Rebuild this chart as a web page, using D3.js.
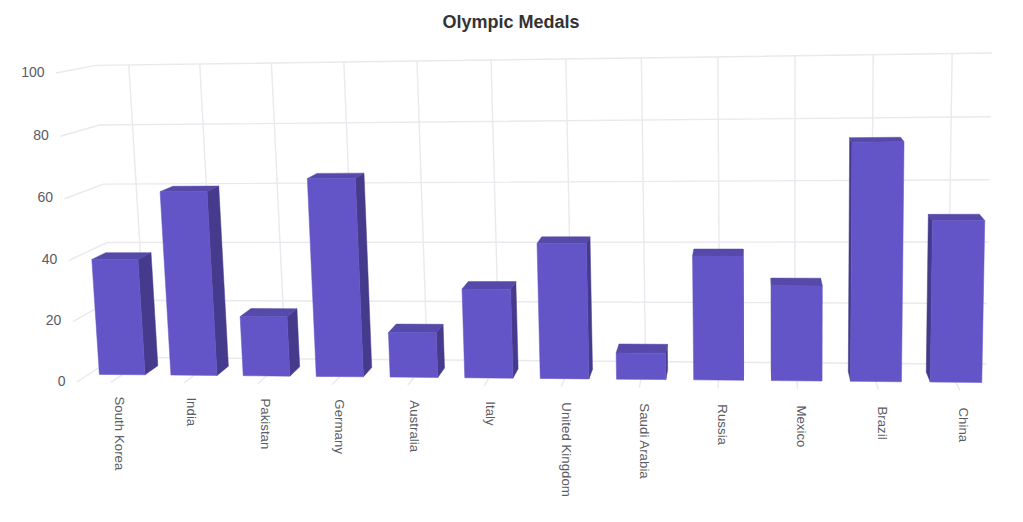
<!DOCTYPE html>
<html><head><meta charset="utf-8">
<style>html,body{margin:0;padding:0;background:#fff}svg{display:block}</style>
<script src="https://cdnjs.cloudflare.com/ajax/libs/d3/7.8.5/d3.min.js"></script>
</head><body><div id="chart"></div>
<script>
const categories = ["South Korea","India","Pakistan","Germany","Australia","Italy","United Kingdom","Saudi Arabia","Russia","Mexico","Brazil","China"];
const medals = [38.5,60.7,19.7,64.7,14.7,29,43.7,8.5,39.7,30.3,75,50.7];
const yTicks = [0,20,40,60,80,100];
const title = "Olympic Medals";

const W=1023,H=522;
// view frame of the 3D box: corners of the front plane and depth vanishing point
const Q={x0:77,y0:382,x1:1001,y1:391,x2:1007.7,y2:60.4,x3:56,y3:73};
const VP=[750,-60], backLeftX=114.5;
const barDepth=[0.3,0.67], barFill=0.64;
const dx1=Q.x1-Q.x2,dx2=Q.x3-Q.x2,sx=Q.x0-Q.x1+Q.x2-Q.x3;
const dy1=Q.y1-Q.y2,dy2=Q.y3-Q.y2,sy=Q.y0-Q.y1+Q.y2-Q.y3;
const den=dx1*dy2-dx2*dy1;
const g=(sx*dy2-dx2*sy)/den,h=(dx1*sy-sx*dy1)/den;
const lam=(Q.x0-backLeftX)/(backLeftX-VP[0]);
// u: x-axis fraction, v: y-axis fraction (bottom to top), z: 0 front, 1 back wall
function project(u,v,z){
  const X=(Q.x1-Q.x0+g*Q.x1)*u+(Q.x3-Q.x0+h*Q.x3)*v+lam*VP[0]*z+Q.x0;
  const Y=(Q.y1-Q.y0+g*Q.y1)*u+(Q.y3-Q.y0+h*Q.y3)*v+lam*VP[1]*z+Q.y0;
  const w=g*u+h*v+lam*z+1;
  return [X/w,Y/w];
}
const xBand=d3.scaleBand().domain(categories).range([-0.0025,1]).paddingInner(0).paddingOuter(0);
const yScale=d3.scaleLinear().domain([0,100]).range([0,1]);
const line=d3.line();
const svg=d3.select("#chart").append("svg").attr("width",W).attr("height",H);
const gridColor="#e9e9ee";
const font="'Liberation Sans',Arial,sans-serif";
const gridG=svg.append("g").attr("fill","none").attr("stroke",gridColor).attr("stroke-width",1.4);
// horizontal wall lines with the left side going forward
gridG.selectAll(".h").data(yTicks).join("path").attr("class","h")
  .attr("d",t=>line([project(0,yScale(t),0),project(0,yScale(t),1),project(1,yScale(t),1)]));
// vertical wall + floor lines at category centres
gridG.selectAll(".v").data(categories).join("path").attr("class","v")
  .attr("d",c=>{const u=xBand(c)+xBand.bandwidth()/2;return line([project(u,0,0),project(u,0,1),project(u,1,1)]);});
svg.append("g").selectAll("text").data(yTicks).join("text")
  .attr("x",t=>project(0,yScale(t),0)[0]-11.5)
  .attr("y",t=>project(0,yScale(t),0)[1]+3.5)
  .attr("text-anchor","end").attr("font-family",font).attr("font-size",14).attr("fill","#5b5b63").text(t=>t);
svg.append("g").selectAll("text").data(categories).join("text")
  .attr("transform",c=>{const u=xBand(c)+xBand.bandwidth()/2;const p=project(u,0,0);return `translate(${p[0]+9-5.5*u},${p[1]+14+3*u}) rotate(90)`;})
  .attr("y",5).attr("font-family",font).attr("font-size",13.3).attr("fill","#5b5b63").text(c=>c);
svg.append("text").attr("x",511).attr("y",28).attr("text-anchor","middle").attr("font-family",font).attr("font-weight",700).attr("font-size",18).attr("fill","#333").text(title);
// bars
const bars=categories.map((c,i)=>({c,v:medals[i]}));
const m=(1-barFill)/2*xBand.bandwidth();
bars.forEach(b=>{
  const u0=xBand(b.c)+m,u1=xBand(b.c)+xBand.bandwidth()-m,t=yScale(b.v);
  const [zf,zb]=barDepth;
  const G=svg.append("g").attr("stroke-linejoin","round");
  const face=(pts,fill)=>G.append("path").attr("d",line(pts)+"Z").attr("fill",fill).attr("stroke",fill).attr("stroke-width",.5);
  const fx=project(u1,t,zf)[0],bx=project(u1,t,zb)[0];
  const lx=project(u0,t,zf)[0],lb=project(u0,t,zb)[0];
  if(bx>fx) face([project(u1,0,zf),project(u1,0,zb),project(u1,t,zb),project(u1,t,zf)],"#463a8c");
  if(lb<lx) face([project(u0,0,zf),project(u0,0,zb),project(u0,t,zb),project(u0,t,zf)],"#463a8c");
  face([project(u0,t,zf),project(u0,t,zb),project(u1,t,zb),project(u1,t,zf)],"#5549a9");
  face([project(u0,0,zf),project(u1,0,zf),project(u1,t,zf),project(u0,t,zf)],"#6355c7");
});
</script></body></html>
